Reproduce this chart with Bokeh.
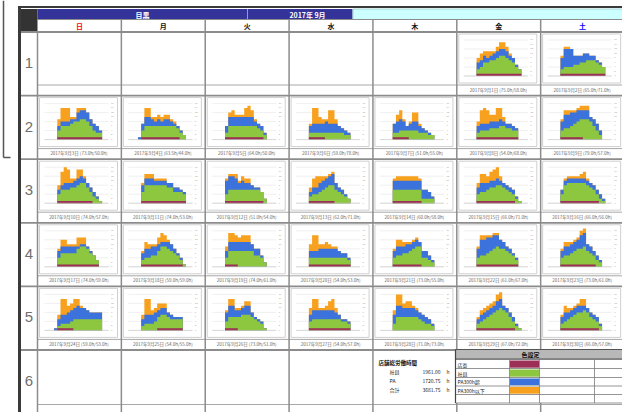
import datetime
from bokeh.plotting import figure
from bokeh.models import Range1d
from bokeh.embed import file_html
from bokeh.resources import INLINE
from bokeh.core.properties import value

# ---------------- data ----------------
YEAR, MONTH = 2017, 9
STORE = "目黒"
WEEKDAYS = ["日", "月", "火", "水", "木", "金", "土"]
WEEK_LABELS = ["1", "2", "3", "4", "5", "6"]
HOURS = list(range(9, 24))          # hourly slots 9:00 ... 23:00
Y_TICKS = list(range(0, 17, 2))

# 店長 (manager) per hour slot, day 1..30
MANAGER = [
    [0,1,1,1,1,1,1,1,1,1,1,1,1,1,1], [0,1,1,1,1,1,1,1,1,1,1,1,1,1,1],
    [0,1,1,1,1,1,1,1,1,1,1,1,1,1,1], [0,1,1,1,1,1,1,1,1,1,1,1,1,0,0],
    [0,1,1,1,1,1,1,1,1,1,1,1,1,0,0], [0,1,1,1,1,1,0,0,0,0,0,0,0,0,0],
    [0,1,1,1,1,1,0,0,0,0,0,0,0,0,0], [0,1,1,1,1,1,1,1,1,1,1,1,1,1,0],
    [0,1,1,1,1,1,1,1,0,0,0,0,0,0,0], [0,1,1,1,1,1,1,1,1,1,1,1,0,0,0],
    [0,1,1,1,1,1,1,1,1,1,1,1,1,1,1], [0,1,1,1,1,1,1,1,1,1,1,1,1,0,0],
    [0,1,1,1,1,1,1,1,1,0,0,0,0,0,0], [0,1,1,1,1,1,1,1,1,1,0,0,0,0,0],
    [0,1,1,1,1,1,1,1,1,1,1,1,1,0,0], [0,1,1,1,1,1,1,1,1,1,1,1,1,0,0],
    [0,1,1,1,1,1,1,1,1,1,1,1,1,1,0], [0,1,1,1,1,1,1,1,1,1,1,1,1,1,0],
    [0,1,1,1,1,0,0,0,0,0,0,0,0,0,0], [0,1,1,1,1,1,1,1,1,1,1,1,1,1,0],
    [0,1,1,1,1,1,1,1,1,1,0,0,0,0,0], [0,1,1,1,1,1,1,1,1,1,1,1,1,1,0],
    [0,1,1,1,1,1,1,1,1,1,1,1,0,0,0], [0,1,1,1,1,1,0,0,0,0,0,0,0,0,0],
    [0,0,0,0,0,0,1,1,1,1,1,1,1,1,0], [0,1,1,1,1,0,0,0,0,0,0,0,0,0,0],
    [0,1,1,1,1,1,1,1,1,1,1,1,1,1,0], [0,0,0,0,0,0,0,0,0,0,0,0,0,0,0],
    [0,1,1,1,1,1,1,1,1,1,1,1,1,0,0], [0,1,1,1,1,1,1,1,1,1,1,1,1,0,0],
]
# 社員 (staff)
STAFF = [
    [0,2,3,5,5,6,6,7,8,8,7,6,5,3,2], [0,2,3,3,3,4,4,5,5,6,6,6,5,4,3],
    [0,3,5,5,5,6,7,7,8,8,7,5,3,2,2], [0,3,5,5,5,5,5,5,5,5,5,5,4,3,2],
    [0,2,5,5,5,5,5,5,5,5,5,4,3,2,0], [0,2,2,2,2,2,3,3,3,3,3,3,2,2,0],
    [0,2,2,3,3,3,4,4,4,3,3,3,2,2,0], [0,2,3,3,3,4,4,4,5,5,4,4,3,3,0],
    [0,3,4,4,5,6,7,8,9,9,8,6,4,2,0], [0,3,5,5,5,6,6,7,8,8,6,4,3,2,1],
    [0,4,7,7,7,7,7,7,7,6,6,4,4,4,3], [0,3,5,5,5,5,5,5,5,5,5,5,4,2,0],
    [0,2,3,3,4,5,6,7,7,6,5,4,3,2,0], [0,5,5,5,5,5,5,5,5,5,2,2,2,2,0],
    [0,3,4,4,5,6,6,7,7,6,5,4,3,2,1], [0,3,7,8,8,8,8,8,8,7,6,5,3,2,1],
    [0,3,5,5,5,5,5,7,8,8,7,5,4,2,0], [0,2,3,3,4,4,6,8,8,7,6,5,4,2,1],
    [0,3,6,6,6,7,7,7,7,7,5,5,4,2,0], [0,3,3,3,3,3,3,3,3,3,3,3,3,2,0],
    [0,3,4,4,5,5,6,7,8,8,4,4,3,2,0], [0,3,4,4,5,6,7,8,7,7,6,5,4,2,0],
    [0,3,4,4,5,6,7,7,8,6,5,4,3,2,0], [0,1,2,2,2,3,5,5,5,5,5,5,5,5,5],
    [0,2,3,3,3,4,5,6,6,5,4,4,4,4,0], [0,3,5,5,5,6,7,7,7,6,5,4,3,1,0],
    [0,3,4,4,4,4,4,4,4,4,4,3,3,2,0], [0,3,6,6,6,6,6,6,6,5,4,3,3,2,0],
    [0,2,3,4,5,6,7,8,9,8,7,5,3,2,1], [0,2,3,4,5,6,7,7,8,7,5,4,3,2,0],
]
# PA300h超 (part-timers over 300h)
PA_OVER = [
    [0,3,3,3,2,2,3,3,3,3,3,2,2,1,0], [0,5,8,8,8,4,4,3,4,3,2,2,1,1,0],
    [0,2,2,2,2,2,1,4,4,4,4,3,3,3,1], [1,3,4,4,3,2,3,2,3,3,2,1,1,1,0],
    [0,3,4,4,4,4,4,4,4,4,2,2,2,1,0], [0,3,4,4,4,4,5,4,4,4,3,2,2,1,0],
    [0,4,5,5,4,2,3,4,4,3,2,1,1,0,0], [0,3,3,3,3,3,3,3,3,2,2,2,2,1,0],
    [0,4,6,6,6,5,5,4,4,4,2,3,3,2,0], [0,2,2,3,3,2,3,3,3,2,2,2,2,1,0],
    [0,3,3,3,3,2,2,2,2,2,2,2,2,1,1], [0,6,6,6,5,3,4,3,3,2,1,1,0,0,0],
    [0,2,3,3,4,4,4,4,5,3,2,2,1,0,0], [0,4,4,4,4,4,4,4,4,4,4,4,3,1,0],
    [0,3,4,4,3,3,3,3,2,2,2,2,2,1,0], [0,2,2,2,2,2,2,2,2,2,2,2,2,2,1],
    [0,3,3,3,3,3,3,1,1,1,1,1,0,0,0], [0,3,4,4,4,4,3,2,2,3,3,2,1,1,0],
    [0,3,4,4,4,4,4,4,4,3,3,3,1,0,0], [0,3,3,3,4,4,4,4,4,4,3,2,2,1,0],
    [0,3,4,4,3,4,3,3,3,2,3,3,2,1,0], [0,4,7,7,7,6,6,5,4,3,2,2,1,1,0],
    [0,3,4,4,4,4,4,6,6,3,3,2,2,1,0], [1,3,4,4,5,5,5,6,5,5,4,3,3,3,3],
    [0,3,4,4,4,4,3,3,3,2,2,1,1,1,0], [0,4,5,5,3,3,3,4,4,2,1,1,1,0,0],
    [0,3,4,4,4,4,4,4,4,3,2,1,1,1,0], [0,4,5,5,4,4,4,4,3,3,3,3,2,1,0],
    [0,2,3,3,3,3,3,4,4,2,2,2,2,1,0], [0,3,4,3,3,3,3,3,2,2,2,2,2,1,0],
]
# PA300h以下 (part-timers up to 300h)
PA_UNDER = [
    [0,2,3,2,3,2,1,2,3,3,2,1,0,0,0], [0,1,1,1,0,0,0,0,0,0,0,0,0,0,0],
    [0,3,6,6,6,1,1,2,1,1,0,0,0,0,0], [0,0,4,4,1,2,2,2,2,2,1,1,0,0,0],
    [0,0,2,3,1,1,1,4,5,3,1,0,0,0,0], [0,1,7,7,3,2,1,6,6,2,0,0,0,0,0],
    [0,0,3,4,1,0,1,4,4,1,0,0,0,0,0], [0,2,6,7,6,3,3,6,5,2,0,0,0,0,0],
    [0,1,2,2,1,1,1,2,2,2,0,0,0,0,0], [0,2,6,7,6,2,1,4,3,1,0,0,0,0,0],
    [0,1,2,2,2,1,1,1,1,0,0,0,0,0,0], [0,1,1,1,2,1,2,2,2,0,0,0,0,0,0],
    [0,2,4,5,3,2,1,1,1,0,0,0,0,0,0], [0,1,2,2,2,2,2,2,2,1,0,0,0,0,0],
    [0,2,4,4,3,4,5,5,2,0,0,0,0,0,0], [0,0,1,1,1,1,1,2,3,1,0,0,0,0,0],
    [0,1,3,3,1,1,1,4,3,3,0,0,0,0,0], [0,1,3,2,1,1,3,4,3,1,0,0,0,0,0],
    [0,2,4,4,3,2,3,3,3,0,0,0,0,0,0], [0,3,7,7,2,2,3,2,1,1,0,0,0,0,0],
    [0,1,3,3,2,1,1,1,1,0,0,0,0,0,0], [0,1,2,2,1,1,1,1,0,0,0,0,0,0,0],
    [0,1,2,2,1,1,1,2,2,0,0,0,0,0,0], [0,2,7,7,3,3,4,3,1,0,0,0,0,0,0],
    [0,2,7,7,2,2,3,2,2,0,0,0,0,0,0], [0,1,3,3,1,1,1,2,2,0,0,0,0,0,0],
    [0,3,5,5,1,1,2,4,5,2,0,0,0,0,0], [0,2,5,5,2,3,3,1,1,0,0,0,0,0,0],
    [0,1,2,2,2,2,2,3,3,0,0,0,0,0,0], [0,1,3,2,1,1,1,3,3,0,0,0,0,0,0],
]
# caption hours per day (社員h / PAh)
STAFF_HOURS = [75.0, 65.0, 73.0, 63.5, 64.0, 59.0, 51.0, 54.0, 79.0, 74.0,
               74.0, 51.0, 62.0, 60.0, 66.0, 66.0, 74.0, 59.0, 74.0, 54.0,
               73.0, 61.0, 73.0, 59.0, 54.0, 73.0, 54.0, 71.0, 67.0, 66.0]
PA_HOURS = [58.0, 71.0, 50.0, 44.0, 50.0, 78.0, 55.0, 68.0, 57.0, 57.0,
            53.0, 54.0, 71.0, 58.0, 71.0, 56.0, 59.0, 59.0, 61.0, 53.0,
            55.0, 67.0, 61.0, 53.0, 55.0, 51.0, 57.0, 73.0, 72.0, 57.0]
TOTAL_TITLE = "店舗総労働時間"
TOTAL_LABELS = ["社員", "PA", "合計"]
TOTAL_VALUES = [1961.00, 1720.75, 3681.75]
LEGEND_TITLE = "色設定"
LEGEND_LABELS = ["店長", "社員", "PA300h超", "PA300h以下"]
LEGEND_COLORS = ["#9b2f55", "#8dc63f", "#3c72dc", "#f7a11e"]

# ---------------- layout ----------------
JP = value("Noto Sans CJK JP")
COL_X = [37 + 83.86 * i for i in range(8)]
ROW_Y = [31.5 + 63.6 * j for j in range(7)]
RIGHT = 624
FIRST_WD = datetime.date(YEAR, MONTH, 1).isoweekday() % 7
H_MIN, H_MAX = 6, 26
PL, PR = 7, 71
BASE, TOPV, V_MAX = 44, 8, 16

p = figure(width=622, height=412, x_range=Range1d(0, 622), y_range=Range1d(412, 0),
           output_backend="svg", toolbar_location=None, min_border=0,
           x_axis_location=None, y_axis_location=None)
p.grid.visible = False
p.outline_line_color = None
p.background_fill_color = "white"
p.border_fill_color = "white"


def fx(cx, h):
    return cx + PL + (h - H_MIN) * (PR - PL) / (H_MAX - H_MIN)


def fy(ry, v):
    return ry + BASE - v * (BASE - TOPV) / V_MAX


def cell(day):
    idx = day - 1 + FIRST_WD
    return COL_X[idx % 7], ROW_Y[idx // 7]


# outside frame at the far left
p.segment(x0=[3, 3], y0=[0, 157], x1=[3, 10], y1=[157, 157], line_color="#555555", line_width=1.5)

# header
p.quad(left=[20], right=[37], top=[8.5], bottom=[31], fill_color="#333333", line_color=None)
p.quad(left=[37, 247.5], right=[247, 352], top=[8.5, 8.5], bottom=[19, 19],
       fill_color="#333399", line_color=None)
p.quad(left=[352.5], right=[RIGHT], top=[8.5], bottom=[19], fill_color="#ccffff",
       line_color="#99cccc", line_width=0.8)
p.text(x=[142, 307], y=[14, 14], text=[STORE, f"{YEAR}年 {MONTH}月"], text_font=JP,
       text_font_size="7px", text_font_style="bold", text_color="white",
       text_align="center", text_baseline="middle")
day_colors = ["#ff0000"] + ["#111111"] * 5 + ["#0000ff"]
p.text(x=[(COL_X[i] + COL_X[i + 1]) / 2 for i in range(7)], y=[25.5] * 7, text=WEEKDAYS,
       text_font=JP, text_font_size="7px", text_font_style="bold", text_color=day_colors,
       text_align="center", text_baseline="middle")

ndays = len(STAFF)
# mini chart boxes, grid, tick labels
bl, br, bt, bb = [], [], [], []
gx0, gx1, gy = [], [], []
tx, ty, tt = [], [], []
for d in range(1, ndays + 1):
    cx, ry = cell(d)
    bl.append(cx + 2); br.append(cx + 80); bt.append(ry + 2); bb.append(ry + 51)
    for v in range(0, V_MAX + 1, 4):
        gx0.append(fx(cx, H_MIN)); gx1.append(fx(cx, H_MAX)); gy.append(fy(ry, v))
    for v in Y_TICKS:
        tx.append(fx(cx, H_MAX) + 2.5); ty.append(fy(ry, v)); tt.append(str(v))
p.quad(left=bl, right=br, top=bt, bottom=bb, fill_color="white", line_color="#cfcfcf", line_width=1)
p.segment(x0=gx0, y0=gy, x1=gx1, y1=gy, line_color="#e4e4e4", line_width=0.6)
p.text(x=tx, y=ty, text=tt, text_font=value("Liberation Sans"), text_font_size="2.4px",
       text_color="#999999", text_align="left", text_baseline="middle")

# stacked step areas: paint cumulative totals from top layer down
layers = [MANAGER, STAFF, PA_OVER, PA_UNDER]
for li in range(len(layers) - 1, -1, -1):
    xs, ys = [], []
    for d in range(1, ndays + 1):
        cx, ry = cell(d)
        tops = [sum(layers[k][d - 1][i] for k in range(li + 1)) for i in range(len(HOURS))]
        px, py = [], []
        for i, h in enumerate(HOURS):
            px += [fx(cx, h), fx(cx, h + 1)]
            py += [fy(ry, tops[i]), fy(ry, tops[i])]
        px += [fx(cx, HOURS[-1] + 1), fx(cx, HOURS[0])]
        py += [fy(ry, 0), fy(ry, 0)]
        xs.append(px); ys.append(py)
    p.patches(xs=xs, ys=ys, fill_color=LEGEND_COLORS[li], line_color=None)

# baselines
p.segment(x0=[fx(cell(d)[0], H_MIN) for d in range(1, ndays + 1)],
          y0=[fy(cell(d)[1], 0) for d in range(1, ndays + 1)],
          x1=[fx(cell(d)[0], H_MAX) for d in range(1, ndays + 1)],
          y1=[fy(cell(d)[1], 0) for d in range(1, ndays + 1)],
          line_color="#c8c8c8", line_width=0.6)

# captions
p.text(x=[cell(d)[0] + 41.5 for d in range(1, ndays + 1)],
       y=[cell(d)[1] + 57.5 for d in range(1, ndays + 1)],
       text=[f"{YEAR}年{MONTH}月{d}日 ({STAFF_HOURS[d-1]:.1f}h/{PA_HOURS[d-1]:.1f}h)"
             for d in range(1, ndays + 1)],
       text_font=JP, text_font_size="4.5px", text_color="#666666",
       text_align="center", text_baseline="middle")

# grid lines
p.segment(x0=[37] * 6, y0=[ROW_Y[j] + 53 if j < 5 else 404 for j in range(6)],
          x1=[RIGHT] * 6, y1=[ROW_Y[j] + 53 if j < 5 else 404 for j in range(6)],
          line_color="#a8a8a8", line_width=1)
p.segment(x0=[20] * 6, y0=ROW_Y[:6], x1=[RIGHT] * 6, y1=ROW_Y[:6],
          line_color="#8c8c8c", line_width=1.8)
p.segment(x0=COL_X[:7], y0=[31] + [19] * 6, x1=COL_X[:7], y1=[413] * 7,
          line_color="#8c8c8c", line_width=1.5)
p.segment(x0=[37], y0=[19], x1=[RIGHT], y1=[19], line_color="#8c8c8c", line_width=1)

# week labels
p.text(x=[28.5] * 6, y=[ROW_Y[j] + 31 for j in range(6)], text=WEEK_LABELS,
       text_font=value("Liberation Sans"), text_font_size="15px", text_color="#6f6f6f",
       text_align="center", text_baseline="middle")

# totals
p.text(x=[378], y=[362], text=[TOTAL_TITLE], text_font=JP, text_font_size="5.5px",
       text_font_style="bold", text_color="#111111", text_align="left", text_baseline="middle")
ty_tot = [371, 380, 389]
p.text(x=[389] * 3, y=ty_tot, text=TOTAL_LABELS, text_font=JP, text_font_size="5px",
       text_color="#222222", text_align="left", text_baseline="middle")
p.text(x=[440] * 3, y=ty_tot, text=[f"{v:.2f}" for v in TOTAL_VALUES], text_font=JP,
       text_font_size="5px", text_color="#222222", text_align="right", text_baseline="middle")
p.text(x=[446] * 3, y=ty_tot, text=["h"] * 3, text_font=JP, text_font_size="5px",
       text_color="#222222", text_align="left", text_baseline="middle")

# legend table
TL, TR = 455, RIGHT
rows_y = [359, 368, 377, 385.5, 394, 402.5]
p.quad(left=[TL], right=[TR], top=[349], bottom=[402.5], fill_color="white", line_color=None)
p.quad(left=[TL], right=[TR], top=[349], bottom=[358.5], fill_color="#b8b8b8",
       line_color="#555555", line_width=1)
p.text(x=[530], y=[353.8], text=[LEGEND_TITLE], text_font=JP, text_font_size="6px",
       text_font_style="bold", text_color="#111111", text_align="center", text_baseline="middle")
p.quad(left=[509.5] * 4, right=[538.5] * 4, top=[r + 1 for r in rows_y[:4]],
       bottom=[r - 0.8 for r in rows_y[1:5]], fill_color=LEGEND_COLORS, line_color=None)
p.segment(x0=[TL] * 6, y0=rows_y, x1=[TR] * 6, y1=rows_y, line_color="#7a7a7a", line_width=0.8)
p.segment(x0=[TL, 509, 539, 594], y0=[358.5] * 4, x1=[TL, 509, 539, 594], y1=[402.5] * 4,
          line_color="#7a7a7a", line_width=0.8)
p.segment(x0=[TL], y0=[349], x1=[TL], y1=[402.5], line_color="#444444", line_width=1.2)
p.text(x=[457] * 4, y=[(rows_y[i] + rows_y[i + 1]) / 2 for i in range(4)], text=LEGEND_LABELS,
       text_font=JP, text_font_size="5px", text_color="#222222", text_align="left",
       text_baseline="middle")

# outer border
p.segment(x0=[19, 17.5], y0=[6, 6.5], x1=[19, RIGHT], y1=[413, 6.5], line_color="#3a3a3a",
          line_width=[3, 2])

open("out.html", "w").write(file_html(p, INLINE))
